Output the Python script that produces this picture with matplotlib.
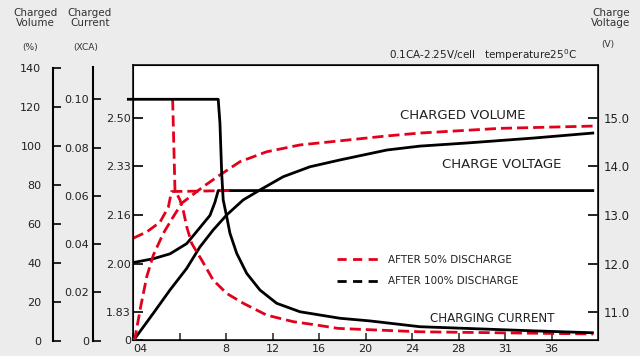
import numpy as np
import matplotlib.pyplot as plt
from matplotlib.lines import Line2D

# time axis (hours)
x_ticks = [0, 4, 8, 12, 16, 20, 24, 28, 32, 36]
x_labels = ['04', '', '8', '12', '16', '20', '24', '28', '31', '36']

# charge voltage (V), right side, and per-cell value on the inner left axis
v_ticks = [11, 12, 13, 14, 15]
v_labels = ['11.0', '12.0', '13.0', '14.0', '15.0']
cell_labels = ['1.83', '2.00', '2.16', '2.33', '2.50']

# outer axes
vol_ticks = [0, 20, 40, 60, 80, 100, 120, 140]
cur_ticks = [0, 0.02, 0.04, 0.06, 0.08, 0.10]
cur_labels = ['0', '0.02', '0.04', '0.06', '0.08', '0.10']

# ---- after 100% discharge (black) ----
t_vol100 = [0, 0.17, 1.75, 3.18, 4.62, 5.76, 6.90, 8.06, 9.48, 10.92, 12.92, 15.22,
            17.80, 21.84, 24.68, 28.72, 34.39, 39.55]
vol100 = [0, 1.2, 14.1, 26.0, 37.1, 48.1, 56.8, 64.5, 72.2, 77.3, 84.1, 89.2,
          92.7, 97.8, 99.8, 101.4, 103.9, 106.5]

t_volt100 = [0, 1.75, 3.18, 4.62, 5.76, 6.62, 7.05, 7.33, 39.55]
volt100 = [12.02, 12.10, 12.20, 12.41, 12.74, 12.99, 13.26, 13.50, 13.50]

t_cur100 = [-0.40, 7.33, 7.48, 7.63, 7.76, 8.06, 8.34, 8.92, 9.78, 10.92, 12.36, 14.36,
            17.80, 20.38, 24.68, 28.69, 34.42, 39.52]
cur100 = [0.100, 0.100, 0.0901, 0.0693, 0.0583, 0.0514, 0.0445, 0.0362, 0.0279, 0.0210,
          0.0155, 0.0120, 0.0093, 0.0082, 0.0058, 0.0051, 0.0041, 0.0033]

# ---- after 50% discharge (red dashed) ----
t_vol50 = [0, 0.17, 0.66, 1.18, 1.75, 2.61, 3.47, 4.19, 6.04, 7.48, 9.20, 11.50,
           14.36, 17.63, 21.81, 24.68, 31.55, 39.72]
vol50 = [0, 1.4, 17.4, 32.8, 43.9, 55.1, 63.6, 70.5, 79.0, 85.0, 91.8, 96.9,
         100.4, 102.4, 105.0, 106.5, 108.9, 110.1]

t_volt50 = [0, 1.18, 2.32, 3.04, 3.31, 8.30]
volt50 = [12.52, 12.65, 12.85, 13.16, 13.48, 13.50]

t_cur50 = [3.41, 3.61, 4.04, 4.32, 4.62, 5.05, 5.91, 6.90, 8.06, 9.49, 11.50, 13.78,
           15.79, 17.65, 24.68, 39.58]
cur50 = [0.100, 0.0624, 0.0583, 0.0541, 0.0472, 0.0403, 0.0334, 0.0251, 0.0196, 0.0155,
         0.0106, 0.0079, 0.0065, 0.0051, 0.0037, 0.0028]

RED = '#e3001b'
BG = '#ececec'
TXT = '#222222'
LW = 2.0
DASH = (4, 1.8)

fig = plt.figure(figsize=(6.4, 3.56), dpi=100, facecolor=BG)

# main axes: voltage scale
ax = fig.add_axes([133/640, 16/356, 465/640, 275/356])
ax.set_xlim(0, 40)
ax.set_ylim(10.43, 16.08)
for s in ax.spines.values():
    s.set_linewidth(1.1)
ax.set_xticks(x_ticks)
ax.set_xticklabels(x_labels)
ax.tick_params(axis='x', direction='in', length=5, width=1.1, pad=3, labelsize=8, colors=TXT)
ax.get_xticklabels()[0].set_horizontalalignment('left')
ax.set_yticks([10.43] + v_ticks)
ax.set_yticklabels(['0'] + cell_labels)
ax.tick_params(axis='y', direction='in', length=7, width=1.4, pad=1.5, labelsize=8, colors=TXT)

axr = ax.twinx()
axr.set_ylim(ax.get_ylim())
axr.set_yticks(v_ticks)
axr.set_yticklabels(v_labels)
axr.tick_params(axis='y', direction='in', length=7, width=1.4, pad=4, labelsize=8.5, colors=TXT)

# volume and current share the plot with their own scales
axv = ax.twinx()
axv.set_ylim(0.36, 141.4)
axc = ax.twinx()
axc.set_ylim(0.0003, 0.1142)
for a in (axv, axc):
    a.axis('off')

ax.plot(t_volt100, volt100, color='black', lw=LW)
ax.plot(t_volt50, volt50, color=RED, lw=LW, dashes=DASH)
axv.plot(t_vol100, vol100, color='black', lw=LW)
axv.plot(t_vol50, vol50, color=RED, lw=LW, dashes=DASH)
axc.plot(t_cur50, cur50, color=RED, lw=LW, dashes=DASH)
axc.plot(t_cur100, cur100, color='black', lw=LW, clip_on=False)

ax.text(0.574, 0.818, 'CHARGED VOLUME', transform=ax.transAxes, fontsize=9.5,
        va='center', color=TXT)
ax.text(0.665, 0.64, 'CHARGE VOLTAGE', transform=ax.transAxes, fontsize=9.5,
        va='center', color=TXT)
ax.text(0.639, 0.08, 'CHARGING CURRENT', transform=ax.transAxes, fontsize=8.6,
        va='center', color=TXT)

handles = [Line2D([], [], color=RED, lw=LW, dashes=(3.3, 2.3)),
           Line2D([], [], color='black', lw=LW, dashes=(3.3, 2.3))]
leg = ax.legend(handles, ['AFTER 50% DISCHARGE', 'AFTER 100% DISCHARGE'],
                loc='upper left', bbox_to_anchor=(0.4387, 0.309), frameon=False,
                fontsize=7.5, handlelength=4.3, handletextpad=0.6,
                labelspacing=1.1, borderpad=0, borderaxespad=0)
for t in leg.get_texts():
    t.set_color(TXT)

# outer axis: charged volume (%)
axo = fig.add_axes([53.3/640, 15.3/356, 0.02, 273/356])
axo.set_ylim(0, 140)
axo.set_yticks(vol_ticks)
axo.tick_params(axis='y', direction='in', length=6, width=1.4, pad=8.6, labelsize=8, colors=TXT)
axo.set_xticks([])
axo.patch.set_visible(False)
for k in ('top', 'right', 'bottom'):
    axo.spines[k].set_visible(False)
axo.spines['left'].set_linewidth(1.5)

# outer axis: charged current (xCA)
axi = fig.add_axes([92.7/640, 15.3/356, 0.02, 274/356])
axi.set_ylim(0, 0.1135)
axi.set_yticks(cur_ticks)
axi.set_yticklabels(cur_labels)
axi.tick_params(axis='y', direction='in', length=5.5, width=1.4, pad=2.5, labelsize=8, colors=TXT)
axi.set_xticks([])
axi.patch.set_visible(False)
for k in ('top', 'right', 'bottom'):
    axi.spines[k].set_visible(False)
axi.spines['left'].set_linewidth(1.5)

# headers
hdr = dict(ha='center', va='center', fontsize=7.5, color='#333333', linespacing=0.95)
fig.text(35/640, 1 - 18/356, 'Charged\nVolume', **hdr)
fig.text(90/640, 1 - 18/356, 'Charged\nCurrent', **hdr)
fig.text(611/640, 1 - 18/356, 'Charge\nVoltage', **hdr)
fig.text(30/640, 1 - 47.7/356, '(%)', ha='center', va='center', fontsize=6.5, color='#333333')
fig.text(85.3/640, 1 - 47.7/356, '(XCA)', ha='center', va='center', fontsize=6.5, color='#333333')
fig.text(608/640, 1 - 45/356, '(V)', ha='center', va='center', fontsize=6.5, color='#333333')
fig.text(389/640, 1 - 55/356, '0.1CA-2.25V/cell   temperature25$^\\mathregular{0}$C',
         ha='left', va='center', fontsize=7.5, color=TXT)

fig.savefig('out.png', dpi=100, facecolor=BG)
